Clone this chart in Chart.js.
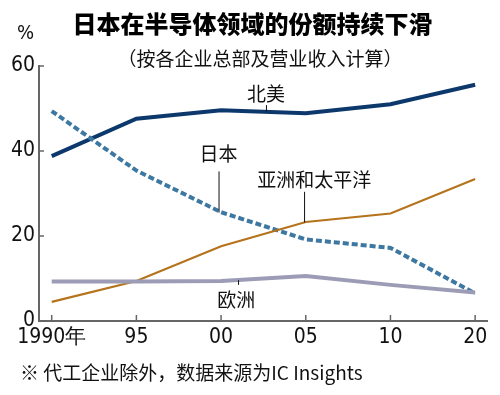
<!DOCTYPE html>
<html lang="zh">
<head>
  <meta charset="UTF-8">
  <title>日本在半导体领域的份额持续下滑</title>
  <script src="https://cdn.jsdelivr.net/npm/chart.js"></script>
  <style>
    body {
      margin: 0;
      padding: 0;
      background: #fff;
      font-family: "Noto Sans CJK SC", sans-serif;
    }
    #wrap {
      position: relative;
      width: 500px;
      height: 395px;
      overflow: hidden;
    }
    #wrap canvas {
      position: absolute;
      left: 0;
      top: 0;
    }
    .txt {
      position: absolute;
      white-space: nowrap;
      color: #111;
      line-height: 1;
    }
    #title {
      left: 0; width: 505px; top: 11px;
      text-align: center;
      font-size: 24px;
      font-weight: 900;
      color: #000;
    }
    #sub {
      left: 0; width: 520px; top: 48px;
      text-align: center;
      font-size: 19px;
    }
    #pct {
      left: 17px; top: 22px;
      font-family: "DejaVu Sans Condensed", sans-serif;
      font-size: 20px;
    }
    #note {
      left: 20px; top: 362px;
      font-size: 19px;
    }
  </style>
</head>
<body>
  <div id="wrap">
    <canvas id="chart" width="500" height="395"></canvas>
    <div class="txt" id="title">日本在半导体领域的份额持续下滑</div>
    <div class="txt" id="sub">（按各企业总部及营业收入计算）</div>
    <div class="txt" id="pct">%</div>
    <div class="txt" id="note">※ 代工企业除外，数据来源为IC Insights</div>
  </div>

  <script>
    const years = ['1990年', '95', '00', '05', '10', '20'];
    const yTicks = [0, 20, 40, 60];

    const northAmerica = [38.8, 47.6, 49.6, 48.9, 51.0, 55.6];
    const japan = [49.4, 35.4, 25.6, 19.2, 17.2, 6.5];
    const asiaPacific = [4.5, 9.4, 17.6, 23.3, 25.3, 33.4];
    const europe = [9.3, 9.3, 9.4, 10.6, 8.5, 6.7];

    // label text, x position (category index), label y, leader line from/to (value units)
    const notes = [
      { text: '北美', x: 2.53, y: 53.5, from: 50.8, to: 49.3 },
      { text: '日本', x: 1.97, y: 39.3, from: 35.2, to: 25.5 },
      { text: '亚洲和太平洋', x: 3.1, y: 33.3, to: 23.2, from: 30.4, lineX: 2.98 },
      { text: '欧洲', x: 2.18, y: 5.1, from: 8.5, to: 9.6, lineX: 2.2 }
    ];

    function series(values) {
      return values.map((v, i) => ({ x: i, y: v }));
    }

    const tickFont = { family: "'DejaVu Sans Condensed', sans-serif", size: 21 };

    const annotate = {
      id: 'annotate',
      afterDatasetsDraw(chart) {
        const { ctx, scales: { x, y } } = chart;
        ctx.save();
        // inward tick marks
        ctx.strokeStyle = '#666';
        ctx.lineWidth = 1.5;
        yTicks.forEach(t => {
          const py = y.getPixelForValue(t);
          ctx.beginPath();
          ctx.moveTo(x.left, py);
          ctx.lineTo(x.left + 5, py);
          ctx.stroke();
        });
        years.forEach((l, i) => {
          const px = x.getPixelForValue(i);
          ctx.beginPath();
          ctx.moveTo(px, y.bottom);
          ctx.lineTo(px, y.bottom - 6);
          ctx.stroke();
        });
        // series labels and leader lines
        ctx.fillStyle = '#111';
        ctx.font = "19px 'Noto Sans CJK SC'";
        ctx.textAlign = 'center';
        ctx.textBaseline = 'middle';
        ctx.strokeStyle = '#111';
        ctx.lineWidth = 1;
        notes.forEach(n => {
          ctx.fillText(n.text, x.getPixelForValue(n.x), y.getPixelForValue(n.y));
          const lx = x.getPixelForValue(n.lineX !== undefined ? n.lineX : n.x) + 0.5;
          ctx.beginPath();
          ctx.moveTo(lx, y.getPixelForValue(n.from));
          ctx.lineTo(lx, y.getPixelForValue(n.to));
          ctx.stroke();
        });
        ctx.restore();
      }
    };

    new Chart(document.getElementById('chart'), {
      type: 'line',
      data: {
        datasets: [
          { label: '欧洲', data: series(europe), borderColor: '#9c9cb6', borderWidth: 4 },
          { label: '亚洲和太平洋', data: series(asiaPacific), borderColor: '#b5731c', borderWidth: 2.2 },
          { label: '日本', data: series(japan), borderColor: '#3d78a2', borderWidth: 4, borderDash: [6, 3] },
          { label: '北美', data: series(northAmerica), borderColor: '#0c386c', borderWidth: 4 }
        ]
      },
      options: {
        responsive: false,
        animation: false,
        events: [],
        elements: {
          point: { radius: 0 },
          line: { tension: 0, fill: false, borderCapStyle: 'butt' }
        },
        layout: { padding: { left: 0, right: 13, top: 66, bottom: 34 } },
        scales: {
          x: {
            type: 'linear',
            min: -0.15,
            max: 5.14,
            afterFit(s) { s.height = 40; },
            afterBuildTicks(s) { s.ticks = years.map((l, i) => ({ value: i })); },
            ticks: {
              callback: v => years[v],
              color: '#111',
              font: tickFont,
              padding: 4,
              maxRotation: 0,
              autoSkip: false
            },
            grid: { display: false, drawTicks: false },
            border: { display: true, color: '#666', width: 2 }
          },
          y: {
            min: 0,
            max: 60,
            afterFit(s) { s.width = 39; },
            afterBuildTicks(s) { s.ticks = yTicks.map(v => ({ value: v })); },
            ticks: {
              color: '#111',
              font: tickFont,
              padding: 4
            },
            grid: { display: false, drawTicks: false },
            border: { display: true, color: '#666', width: 2 }
          }
        },
        plugins: {
          legend: { display: false },
          tooltip: { enabled: false }
        }
      },
      plugins: [annotate]
    });
  </script>
</body>
</html>
